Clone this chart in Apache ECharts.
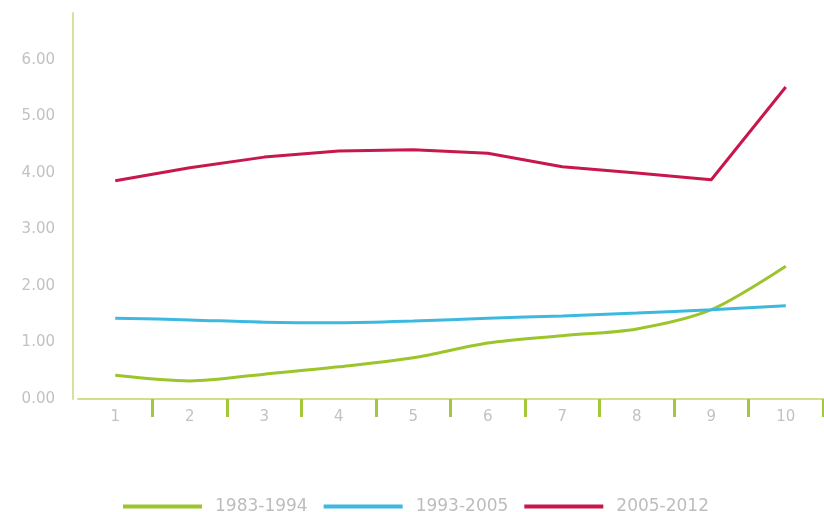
<!DOCTYPE html>
<html>
<head>
<meta charset="utf-8">
<script src="https://cdn.jsdelivr.net/npm/echarts@6/dist/echarts.min.js"></script>
<style>html,body{margin:0;padding:0;background:#fff;}#c{width:824px;height:512px;}</style>
</head>
<body>
<div id="c"></div>
<script>
var categories = ['1','2','3','4','5','6','7','8','9','10'];
var seriesNames = ['1983-1994','1993-2005','2005-2012'];
var s1983 = [0.42, 0.32, 0.44, 0.57, 0.73, 0.99, 1.12, 1.24, 1.58, 2.35];
var s1993 = [1.43, 1.40, 1.36, 1.35, 1.38, 1.43, 1.47, 1.52, 1.58, 1.65];
var s2005 = [3.86, 4.09, 4.28, 4.39, 4.41, 4.35, 4.11, 4.00, 3.88, 5.52];
var colors = ['#9cc52b', '#3db9df', '#c8174c'];

var chart = echarts.init(document.getElementById('c'), null, {renderer: 'canvas'});
var lbl = {color: '#c2c2c2', fontFamily: 'DejaVu Sans', fontSize: 15};
chart.setOption({
  animation: false,
  color: colors,
  grid: {left: 78, right: 1, top: 13, bottom: 113, containLabel: false},
  legend: {
    left: 118, top: 493,
    icon: 'rect', itemWidth: 79, itemHeight: 4, itemGap: 16,
    textStyle: {color: '#bdbdbd', fontFamily: 'DejaVu Sans', fontSize: 17, padding: [0, 0, 0, 8]},
    data: seriesNames
  },
  xAxis: {
    type: 'category',
    data: categories,
    boundaryGap: true,
    axisLine: {lineStyle: {color: '#cfe08c', width: 2}},
    axisTick: {show: true, length: 18, interval: function (i) { return i !== 0; }, lineStyle: {color: '#a3c83a', width: 3}},
    axisLabel: Object.assign({margin: 11}, lbl),
    splitLine: {show: false}
  },
  yAxis: {
    type: 'value',
    min: 0, max: 6.83, interval: 1,
    offset: 5,
    axisLine: {show: true, lineStyle: {color: '#d3e39a', width: 2}},
    axisTick: {show: false},
    axisLabel: Object.assign({margin: 18, showMaxLabel: false, formatter: function (v) { return v.toFixed(2); }}, lbl),
    splitLine: {show: false}
  },
  series: [
    {name: seriesNames[0], type: 'line', data: s1983, smooth: 0.3, symbol: 'none', lineStyle: {width: 3, color: colors[0]}},
    {name: seriesNames[1], type: 'line', data: s1993, smooth: 0.3, symbol: 'none', lineStyle: {width: 3, color: colors[1]}},
    {name: seriesNames[2], type: 'line', data: s2005, smooth: false, symbol: 'none', lineStyle: {width: 3, color: colors[2], join: 'round'}}
  ]
});
</script>
</body>
</html>
